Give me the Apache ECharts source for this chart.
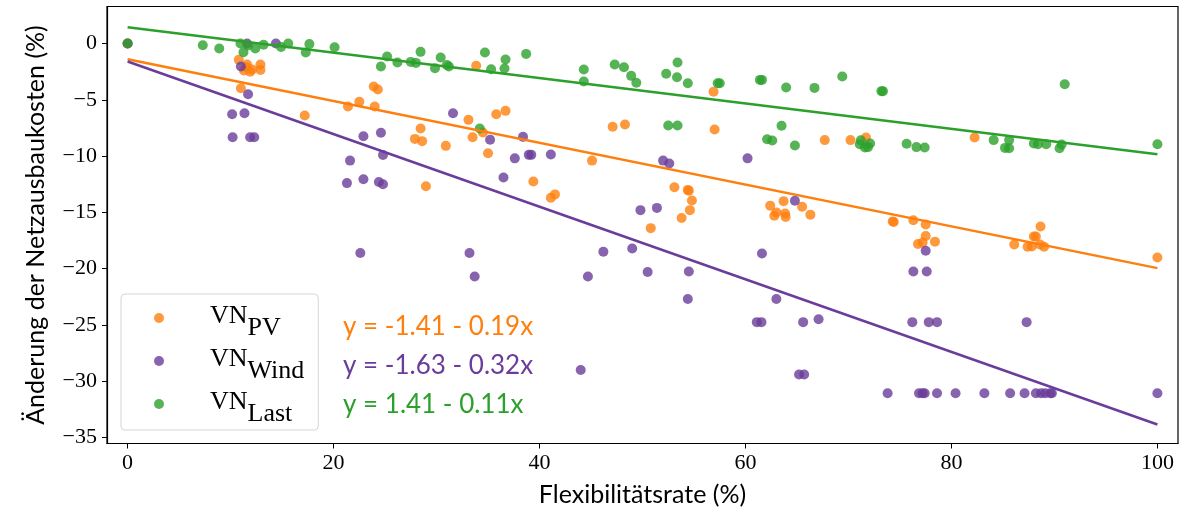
<!DOCTYPE html>
<html>
<head>
<meta charset="utf-8">
<script src="https://cdn.jsdelivr.net/npm/echarts@6.0.0/dist/echarts.min.js"></script>
<style>
html, body { margin: 0; padding: 0; background: #fff; }
#chart { width: 1182px; height: 517px; }
</style>
</head>
<body>
<div id="chart"></div>
<script>
// VN_PV (orange)
var pvX = [0, 10.8, 11.6, 11.5, 11.3, 11.9, 12.1, 12.9, 12.9, 11.0,
  17.2, 21.4, 22.5, 23.9, 24.3, 24.0,
  28.45, 27.9, 28.6, 28.97, 30.9, 33.1, 33.5, 33.85, 34.5, 35.0, 35.8, 36.7, 39.4, 41.1, 41.5,
  45.1, 47.1, 48.3, 50.8, 53.1, 53.8, 54.5, 54.4, 54.8, 54.6, 56.9, 57.0,
  62.4, 63.7, 65.5, 66.3, 63.0, 62.8, 63.85, 63.9,
  67.7, 70.2, 71.7,
  74.3, 74.4, 76.3, 77.5, 77.5, 77.2, 76.75, 78.4,
  82.25,
  86.1, 87.4, 87.8, 88.0, 88.2, 88.65, 88.6, 89.0,
  100];
var pvY = [0, -1.45, -1.87, -2.1, -2.4, -2.5, -2.3, -1.87, -2.34, -3.97,
  -6.4, -5.6, -5.18, -3.82, -4.09, -5.6,
  -7.55, -8.47, -8.67, -12.67, -9.09, -6.78, -8.32, -1.98, -7.9, -9.74, -6.28, -5.98, -12.26, -13.7, -13.4,
  -10.4, -7.4, -7.19, -16.4, -12.76, -15.5, -13.08, -13.0, -13.94, -14.8, -4.29, -7.64,
  -14.4, -14.0, -14.5, -15.2, -15.0, -15.3, -15.1, -15.4,
  -8.58, -8.58, -8.35,
  -15.8, -15.85, -15.7, -16.07, -17.1, -17.67, -17.8, -17.6,
  -8.35,
  -17.85, -18.05, -18.03, -17.14, -17.14, -16.25, -17.85, -18.05,
  -19.0];

// VN_Wind (purple)
var windX = [0, 11.6, 14.4, 11.0, 11.7, 10.15, 11.35, 10.2, 11.9, 12.3,
  21.3, 21.6, 22.6, 22.9, 22.9, 24.4, 24.6, 24.8, 24.8,
  31.6, 33.2, 33.7, 35.2, 36.5, 37.6, 38.4, 38.96, 39.2, 41.1,
  44.0, 44.7, 46.2, 49.0, 49.8, 50.5, 51.4, 52.0, 52.6,
  54.4, 54.5, 60.2, 61.1, 61.55, 61.6, 63.0, 64.8, 65.2, 65.7, 65.6, 67.1,
  73.8, 76.2, 76.3, 76.85, 77.2, 77.4, 77.5, 77.6, 77.8, 78.6, 78.6, 80.4, 83.2, 85.7,
  87.1, 87.3, 88.2, 88.7, 89.1, 89.6, 89.75, 100];
var windY = [0, 0, 0, -2.04, -4.5, -6.28, -6.19, -8.32, -8.32, -8.32,
  -12.4, -10.4, -18.6, -8.23, -12.05, -12.3, -7.93, -9.9, -12.5,
  -6.19, -18.6, -20.7, -8.55, -11.9, -10.2, -8.29, -9.89, -9.89, -9.86,
  -29.0, -20.7, -18.5, -18.2, -14.8, -20.3, -14.6, -10.4, -10.66,
  -22.7, -20.25, -10.2, -24.75, -24.75, -18.65, -22.7, -13.97, -29.4, -29.4, -24.75, -24.5,
  -31.06, -24.75, -20.25, -31.06, -31.06, -31.06, -18.4, -20.25, -24.75, -24.75, -31.06, -31.06, -31.06, -31.06,
  -31.06, -24.75, -31.06, -31.06, -31.06, -31.06, -31.06, -31.06];

// VN_Last (green)
var lastX = [0, 7.3, 8.9, 10.96, 11.7, 11.25, 12.4, 13.2, 14.9, 15.6, 17.3, 17.65, 20.1,
  25.2, 24.6, 26.2, 27.5, 28.0, 28.45, 29.85, 30.4, 31.0, 31.2, 34.2, 34.7, 35.3, 36.6, 36.7, 38.7,
  44.3, 44.3, 47.3, 48.2, 48.9, 49.4, 52.3, 52.5, 53.35, 53.4, 53.4, 54.4, 57.3, 57.5,
  61.4, 61.6, 62.1, 62.6, 63.5, 63.95, 64.8, 66.7, 69.4, 71.1, 71.2, 71.6, 71.9, 72.1, 73.2, 73.35,
  75.65, 76.6, 77.4, 84.1, 85.2, 85.6, 85.6, 88.0, 88.4, 89.2, 90.5, 90.7, 91.0, 100];
var lastY = [0, -0.15, -0.44, 0, -0.18, -0.77, -0.44, -0.1, -0.3, 0, -0.8, -0.05, -0.33,
  -1.15, -2.04, -1.69, -1.63, -1.72, -0.74, -2.19, -1.24, -1.9, -2.04, -7.55, -0.8, -2.28, -2.22, -1.42, -0.92,
  -2.31, -3.37, -1.87, -2.1, -2.87, -3.49, -2.69, -7.28, -2.99, -1.69, -7.28, -3.52, -3.52, -3.52,
  -3.23, -3.23, -8.5, -8.61, -7.31, -3.9, -9.06, -3.94, -2.93, -8.94, -8.6, -9.24, -9.2, -8.88, -4.23, -4.23,
  -8.9, -9.2, -9.24, -8.58, -9.27, -8.58, -9.3, -8.88, -8.94, -8.94, -9.3, -8.97, -3.61, -8.94];

// regression lines, end points at x = 0 and x = 100
var fitX = [0, 100];
var pvFit = [-1.39, -19.95];
var windFit = [-1.6, -33.84];
var lastFit = [1.45, -9.83];

var equations = ['y = -1.41 - 0.19x', 'y = -1.63 - 0.32x', 'y = 1.41 - 0.11x'];
var xTicks = [0, 20, 40, 60, 80, 100];
var yTicks = [0, -5, -10, -15, -20, -25, -30, -35];

var cOrange = '#ff7f0e', cPurple = '#6a3d9a', cGreen = '#2ca02c';

function pairs(xs, ys) {
  return xs.map(function (x, i) { return [x, ys[i]]; });
}

function scatter(name, xs, ys, color) {
  return {
    name: name, type: 'scatter', data: pairs(xs, ys),
    symbolSize: 10,
    itemStyle: { color: color, opacity: 0.8 },
    emphasis: { disabled: true }
  };
}
function fit(ys, color) {
  return {
    type: 'line', data: pairs(fitX, ys), symbol: 'none',
    lineStyle: { color: color, width: 2.5 },
    z: 3, silent: true
  };
}

var serif = 'Liberation Serif';
var sans = 'Lato';

var myChart = echarts.init(document.getElementById('chart'));
myChart.setOption({
  animation: false,
  grid: { left: 107, right: 4, top: 6.5, bottom: 73.5, show: true, borderColor: '#000', borderWidth: 1.2 },
  xAxis: {
    type: 'value', min: -2, max: 102,
    name: 'Flexibilitätsrate (%)', nameLocation: 'middle', nameGap: 39,
    nameTextStyle: { fontFamily: sans, fontSize: 25, color: '#000' },
    axisLine: { onZero: false, lineStyle: { color: '#000', width: 1.2 } },
    axisTick: { customValues: xTicks, length: 5, lineStyle: { color: '#000' } },
    axisLabel: { customValues: xTicks, margin: 9, fontFamily: serif, fontSize: 22, color: '#000' },
    splitLine: { show: false }
  },
  yAxis: {
    type: 'value', min: -35.53, max: 3.29,
    name: 'Änderung der Netzausbaukosten (%)', nameLocation: 'middle', nameGap: 59, nameRotate: 90,
    nameTextStyle: { fontFamily: sans, fontSize: 25, color: '#000' },
    axisLine: { onZero: false, lineStyle: { color: '#000', width: 1.2 } },
    axisTick: { customValues: yTicks, length: 5, lineStyle: { color: '#000' } },
    axisLabel: {
      customValues: yTicks, margin: 10, fontFamily: serif, fontSize: 22, color: '#000',
      formatter: function (v) { return String(v).replace('-', '\u2212'); }
    },
    splitLine: { show: false }
  },
  legend: {
    data: ['PV', 'Wind', 'Last'],
    orient: 'vertical', left: 121, top: 294,
    padding: [9, 14, 3, 33],
    itemGap: 5,
    itemWidth: 10, itemHeight: 10,
    backgroundColor: 'rgba(255,255,255,0.8)',
    borderColor: '#d4d4d4', borderWidth: 1, borderRadius: 4,
    formatter: function (name) { return '{a|VN}{b|' + name + '}'; },
    textStyle: {
      rich: {
        a: { fontFamily: serif, fontSize: 26, lineHeight: 30, padding: [0, 0, 0, 41], verticalAlign: 'top', color: '#000' },
        b: { fontFamily: serif, fontSize: 26, lineHeight: 22, padding: [12, 0, 0, 0], verticalAlign: 'top', color: '#000' }
      }
    }
  },
  graphic: equations.map(function (t, i) {
    return {
      type: 'text', x: 343, y: [327, 366, 405][i],
      style: { text: t, fill: [cOrange, cPurple, cGreen][i], fontFamily: sans, fontSize: 26, verticalAlign: 'middle' }
    };
  }),
  series: [
    scatter('PV', pvX, pvY, cOrange),
    scatter('Wind', windX, windY, cPurple),
    scatter('Last', lastX, lastY, cGreen),
    fit(pvFit, cOrange),
    fit(windFit, cPurple),
    fit(lastFit, cGreen)
  ]
});
</script>
</body>
</html>
